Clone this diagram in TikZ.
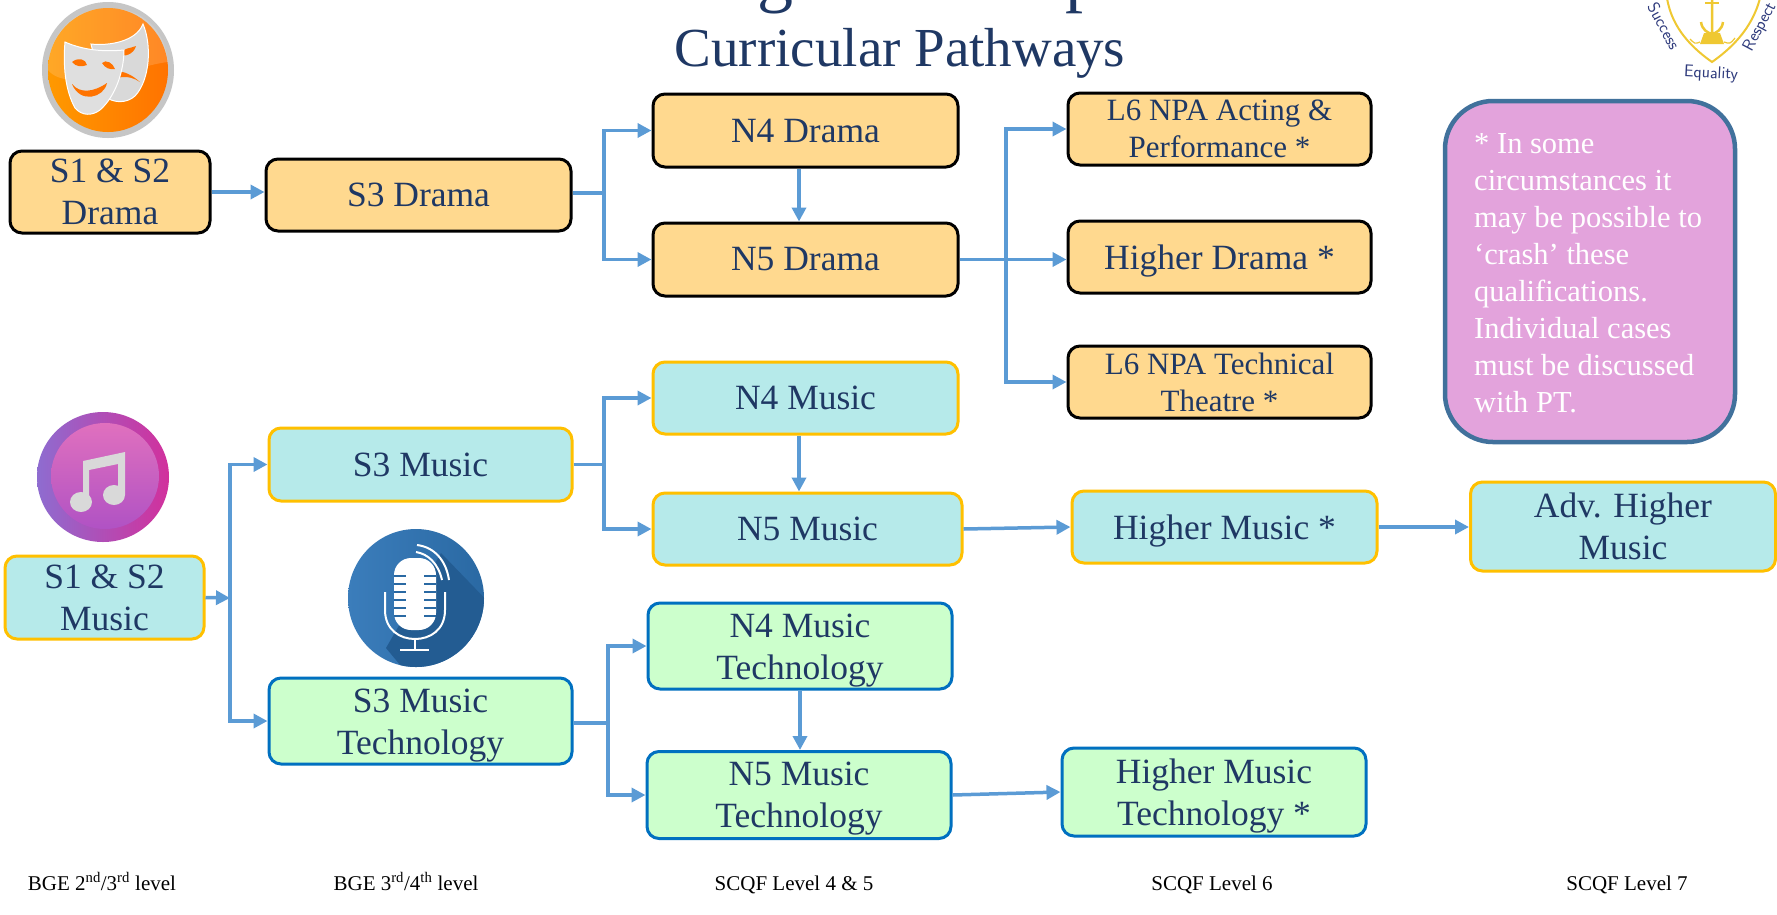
\documentclass[tikz,border=0pt]{standalone}
\usepackage{fontspec}
\setmainfont{Liberation Serif}
\usetikzlibrary{arrows.meta,shadings}
\definecolor{navy}{HTML}{1F3864}
\definecolor{arrowblue}{HTML}{5B9BD5}
\definecolor{dramafill}{HTML}{FFD98F}
\definecolor{musicfill}{HTML}{B6EAEA}
\definecolor{techfill}{HTML}{CCFFCC}
\definecolor{gold}{HTML}{FFC000}
\definecolor{techline}{HTML}{0070C0}
\definecolor{notefill}{HTML}{E3A3DC}
\definecolor{noteline}{HTML}{41719C}
\definecolor{crest}{HTML}{EFC832}
\definecolor{crestblue}{HTML}{2E3A7C}
\newcommand{\lowr}[1]{\rule{0pt}{#1pt}}
\tikzset{
  box/.style={rectangle,rounded corners=12pt,inner sep=0pt,align=center,text=navy,
     font=\fontsize{35.5}{42}\selectfont},
  smalltext/.style={font=\fontsize{31}{37}\selectfont},
  drama/.style={box,draw=black,line width=3pt,fill=dramafill},
  music/.style={box,draw=gold,line width=3pt,fill=musicfill},
  tech/.style={box,draw=techline,line width=3pt,fill=techfill},
  sz/.style 2 args={minimum width=#1 pt,minimum height=#2 pt},
  conn/.style={draw=arrowblue,line width=3.5pt},
  arr/.style={conn,-{Triangle[length=14pt,width=14pt]}},
  level/.style={font=\fontsize{21}{24}\selectfont,text=black,inner sep=0pt,anchor=base},
  crestword/.style={font=\fontsize{17}{20}\sffamily,text=crestblue,inner sep=0pt},
}
\begin{document}
\begin{tikzpicture}[x=1pt,y=-1pt]
\useasboundingbox (0,0) rectangle (1777,914);
\fill[white] (0,0) rectangle (1777,914);

% title
\node[anchor=base,text=navy,inner sep=0pt,font=\fontsize{72}{80}\selectfont] (tg) at (775,-2) {g};
\node[anchor=base,text=navy,inner sep=0pt,font=\fontsize{72}{80}\selectfont] (tp) at (1083,-2) {p};
\node[anchor=base,text=navy,inner sep=0pt,font=\fontsize{55}{64}\selectfont] (title) at (900,66) {Curricular Pathways};

% crest
\draw[crest,line width=2pt] (1667,-2) .. controls (1672,30) and (1695,50) .. (1712,62) .. controls (1729,50) and (1752,30) .. (1760,-2);
\draw[crest,line width=2.5pt] (1712,-2) -- (1712,34) (1701,22) .. controls (1702,30) and (1708,33) .. (1712,34) .. controls (1716,33) and (1722,30) .. (1723,22);
\draw[crest,line width=2pt] (1705,3) -- (1719,3);
\fill[crest] (1704,33) -- (1720,33) -- (1724,44) -- (1700,44) -- cycle;
\draw[crest,line width=1.2pt] (1690,39) .. controls (1695,44) .. (1700,42) (1724,42) .. controls (1730,44) .. (1735,38);
\node[crestword,rotate=-62] (csuccess) at (1664,26) {Success};
\node[crestword,rotate=62] (crespect) at (1760,27) {Respect};
\node[crestword,rotate=-3] (cequality) at (1711,74) {Equality};

% drama icon
\begin{scope}[shift={(108,70)}]
  \fill[gray!45] (0,0) ellipse (66pt and 68pt);
  \shade[shading=axis,shading angle=135,left color=orange!80!yellow,right color=orange!90!red] (0,0) ellipse (60pt and 62pt);
  \fill[white,opacity=.15] (-60,0) .. controls (-40,25) and (30,-5) .. (60,-8) .. controls (55,-50) and (25,-62) .. (0,-62) .. controls (-35,-62) and (-60,-35) .. (-60,0) -- cycle;
  \fill[gray!30,draw=white,line width=1pt] (-17,-26) .. controls (0,-24) and (28,-28) .. (35,-46) .. controls (44,-25) and (42,10) .. (27,26) .. controls (18,34) and (5,33) .. (-4,26) -- cycle;
  \fill[orange!90!red] (10,-16) .. controls (15,-22) and (24,-22) .. (28,-24) .. controls (26,-16) and (16,-12) .. (10,-16) -- cycle;
  \fill[orange!90!red] (-1,14) .. controls (0,0) and (14,-4) .. (32,12) .. controls (20,4) and (8,6) .. (-1,14) -- cycle;
  \fill[gray!25,draw=white,line width=1pt] (-43,-28) .. controls (-25,-20) and (-5,-18) .. (16,-20) .. controls (16,0) and (8,26) .. (-8,40) .. controls (-16,46) and (-26,46) .. (-33,38) .. controls (-43,20) and (-45,-5) .. (-43,-28) -- cycle;
  \fill[orange!90!red] (-36,-8) .. controls (-30,-13) and (-22,-11) .. (-21,-5) .. controls (-26,-3) and (-32,-3) .. (-36,-8) -- cycle;
  \fill[orange!90!red] (-6,-7) .. controls (-2,-11) and (5,-7) .. (7,-1) .. controls (2,0) and (-3,-2) .. (-6,-7) -- cycle;
  \fill[orange!90!red] (-36,14) .. controls (-28,24) and (-14,22) .. (-1,13) .. controls (-4,28) and (-28,34) .. (-36,14) -- cycle;
\end{scope}

% music icon
\begin{scope}[shift={(103,477)}]
  \definecolor{ringa}{HTML}{8E6CD0}
  \definecolor{ringb}{HTML}{D2309C}
  \definecolor{disca}{HTML}{E070BE}
  \definecolor{discb}{HTML}{B052C4}
  \shade[left color=ringa,right color=ringb] (0,0) ellipse (66pt and 65pt);
  \shade[top color=disca,bottom color=discb] (2,-1) ellipse (54pt and 53pt);
  \fill[gray!30] (-20,-16) -- (22,-25) -- (22,18) -- (15,18) -- (15,-13) -- (-14,-7) -- (-14,25) -- (-20,25) -- cycle;
  \fill[gray!30] (-22,25) ellipse (11pt and 10pt);
  \fill[gray!30] (11,18) ellipse (11pt and 10pt);
\end{scope}

% microphone icon
\begin{scope}[shift={(416,598)}]
  \definecolor{mica}{HTML}{3B7DBB}
  \definecolor{micb}{HTML}{2A69A3}
  \definecolor{micc}{HTML}{235C92}
  \shade[left color=mica,right color=micb] (0,0) ellipse (68pt and 69pt);
  \begin{scope}
    \clip (0,0) ellipse (68pt and 69pt);
    \fill[micc] (25,-45) -- (80,12) -- (80,80) -- (-5,80) -- (-30,50) -- cycle;
  \end{scope}
  \fill[white,rounded corners=17pt] (-22,-40) rectangle (20,32);
  \foreach \yy in {-22,-14,-6,2,10,18} {
    \draw[micb,line width=1.5pt] (-22,\yy) -- (-10,\yy) (8,\yy) -- (20,\yy);
  }
  \draw[white,line width=2pt] (-31,-6) -- (-31,12) .. controls (-31,32) and (-16,41) .. (-1,41) .. controls (14,41) and (29,32) .. (29,12) -- (29,-6);
  \draw[white,line width=2pt] (-1,41) -- (-1,52) (-16,52) -- (13,52);
  \draw[white,line width=2pt] (0,-46) .. controls (12,-44) and (22,-35) .. (26,-18);
  \draw[white,line width=2pt] (1,-53) .. controls (18,-51) and (30,-38) .. (33,-18);
\end{scope}

% nodes
\node[drama,sz={200}{82}] (s12d) at (110,192) {S1 \& S2\\Drama};
\node[drama,sz={305}{72}] (s3d) at (418.5,195) {S3 Drama};
\node[drama,sz={305}{73}] (n4d) at (805.5,130.5) {N4 Drama};
\node[drama,sz={305}{73}] (n5d) at (805.5,259.5) {N5 Drama};
\node[drama,sz={303}{72},smalltext] (l6a) at (1219.5,129) {L6 NPA Acting \&\\Performance *};
\node[drama,sz={303}{72}] (hd) at (1219.5,257) {\lowr{33}Higher Drama *};
\node[drama,sz={303}{72},smalltext] (l6t) at (1219.5,382) {L6 NPA Technical\\Theatre *};

\node[music,sz={199}{83}] (s12m) at (104.5,597.5) {S1 \& S2\\Music};
\node[music,sz={303}{73}] (s3m) at (420.5,464.5) {S3 Music};
\node[music,sz={305}{72}] (n4m) at (805.5,398) {N4 Music};
\node[music,sz={309}{72}] (n5m) at (807.5,529) {N5 Music};
\node[music,sz={305}{72}] (hm) at (1224.5,527) {\lowr{33}Higher Music *};
\node[music,sz={305}{89}] (ahm) at (1623,526.5) {Adv. Higher\\Music};

\node[tech,sz={303}{86}] (s3t) at (420.5,721) {\lowr{33}S3 Music\\Technology};
\node[tech,sz={304}{86}] (n4t) at (800,646) {\lowr{33}N4 Music\\Technology};
\node[tech,sz={304}{87}] (n5t) at (799,795) {\lowr{31}N5 Music\\Technology};
\node[tech,sz={304}{88}] (ht) at (1214,792) {\lowr{32}Higher Music\\Technology *};

\node[rectangle,rounded corners=48pt,draw=noteline,line width=4.5pt,fill=notefill,
      minimum width=290pt,minimum height=341pt,inner sep=0pt] (note) at (1590,271.5) {};
\node[anchor=north west,inner sep=0pt,text=white,align=left,
      font=\fontsize{30.5}{37}\selectfont] (notetext) at (1474,133)
  {* In some\\circumstances it\\may be possible to\\‘crash’ these\\qualifications.\\Individual cases\\must be discussed\\with PT.};

% level labels
\node[level] (lv1) at (102,890) {BGE 2\textsuperscript{nd}/3\textsuperscript{rd} level};
\node[level] (lv2) at (406,890) {BGE 3\textsuperscript{rd}/4\textsuperscript{th} level};
\node[level] (lv3) at (794,890) {SCQF Level 4 \& 5};
\node[level] (lv4) at (1212,890) {SCQF Level 6};
\node[level] (lv5) at (1627,890) {SCQF Level 7};

% junctions
\coordinate (jd) at (604,193);
\coordinate (jdn) at (1006,258);
\coordinate (jm) at (604,464.5);
\coordinate (jt) at (608,723);
\coordinate (js) at (230,598);
\coordinate (ax) at (799,0);

% connectors
\draw[arr] (s12d.east |- 0,192) -- (s3d.west |- 0,192);
\draw[conn] (s3d.east |- jd) -- (jd);
\draw[arr] (jd) |- (n4d.west);
\draw[arr] (jd) |- (n5d.west);
\draw[arr] (n4d.south -| ax) -- (n5d.north -| ax);
\draw[arr] (n5d.east) -- (n5d.east -| hd.west);
\draw[arr] (jdn) |- (l6a.west);
\draw[arr] (jdn) |- (l6t.west);

\draw[arr] (s12m.east) -- (js);
\draw[arr] (js) |- (s3m.west);
\draw[arr] (js) |- (s3t.west);
\draw[conn] (s3m.east) -- (jm);
\draw[arr] (jm) |- (n4m.west);
\draw[arr] (jm) |- (n5m.west);
\draw[arr] (n4m.south -| ax) -- (n5m.north -| ax);
\draw[arr] (n5m.east) -- (hm.west);
\draw[arr] (hm.east) -- (ahm.west |- hm.east);

\draw[conn] (s3t.east |- jt) -- (jt);
\draw[arr] (jt) |- (n4t.west);
\draw[arr] (jt) |- (n5t.west);
\draw[arr] (n4t.south) -- (n5t.north -| n4t.south);
\draw[arr] (n5t.east) -- (ht.west);
\end{tikzpicture}
\end{document}
